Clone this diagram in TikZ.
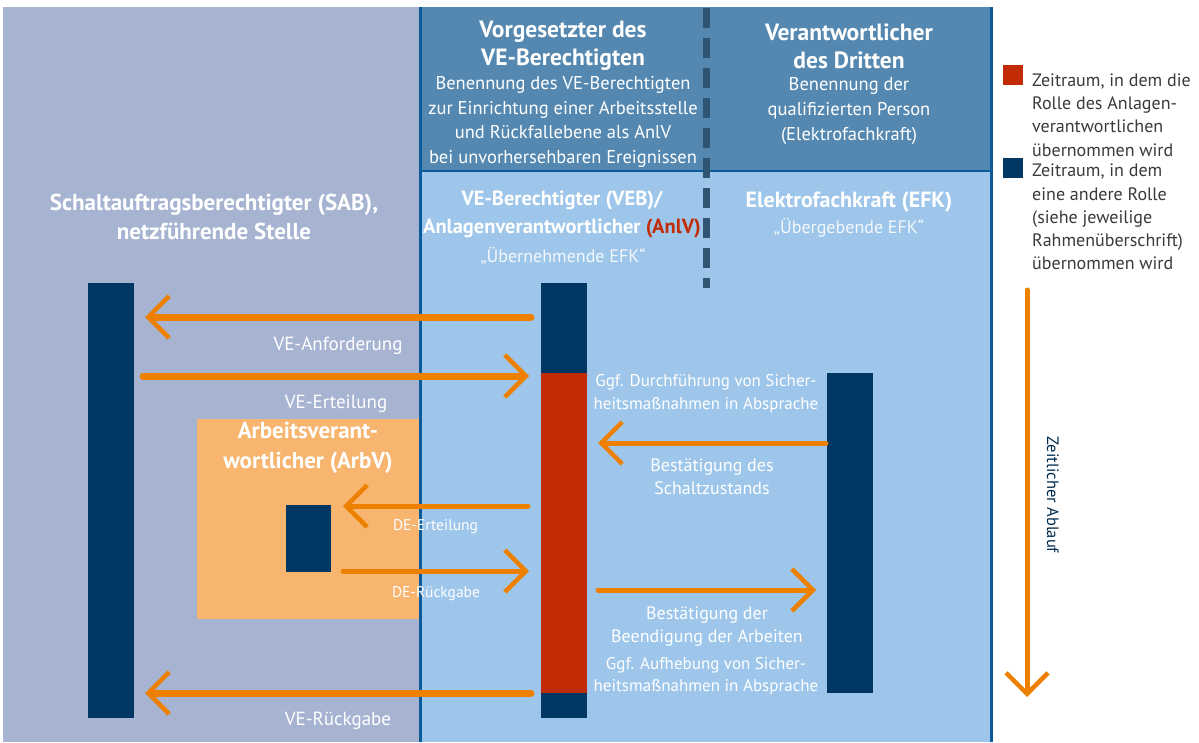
\documentclass[tikz,border=0pt]{standalone}
\usepackage{fontspec}
\setmainfont{PT Sans}
\usetikzlibrary{arrows.meta}
\usetikzlibrary{positioning}
\definecolor{sabbg}{HTML}{A6B4D2}
\definecolor{headbg}{HTML}{5588B0}
\definecolor{lowbg}{HTML}{9DC6EA}
\definecolor{rule}{HTML}{0B5B9B}
\definecolor{dashc}{HTML}{2F5572}
\definecolor{navy}{HTML}{003763}
\definecolor{anlvred}{HTML}{C12C07}
\definecolor{arrorange}{HTML}{EE8000}
\definecolor{boxorange}{HTML}{F7B570}
\definecolor{legtext}{HTML}{3A3A3A}
\tikzset{
    bar/.style={
        fill=navy,
        draw=none,
        inner sep=0pt},
    hdbold/.style={
        text=white,
        align=center,
        inner sep=0pt,
        font=\fontsize{23.5}{28}\selectfont\bfseries},
    hdtext/.style={
        text=white,
        align=center,
        inner sep=0pt,
        font=\fontsize{18.5}{24.7}\selectfont},
    quote/.style={
        text=white!88!lowbg,
        align=center,
        inner sep=0pt,
        font=\fontsize{18}{20}\selectfont},
    lbl/.style={
        text=white,
        align=center,
        inner sep=0pt,
        font=\fontsize{19}{23}\selectfont},
    midlbl/.style={
        text=white,
        align=center,
        inner sep=0pt,
        font=\fontsize{18}{23}\selectfont},
    delbl/.style={
        text=white,
        inner sep=0pt,
        font=\fontsize{15.5}{18}\selectfont},
    legtxt/.style={
        text=legtext,
        align=left,
        inner sep=0pt,
        font=\fontsize{18}{23.2}\selectfont},
    legbox/.style={
        minimum size=20pt,
        inner sep=0pt},
    every edge/.style={
        draw=arrorange,
        line width=7pt,
        line cap=round,
        -{Straight Barb[length=21pt,width=42pt,line width=4.5pt]}},
    thin/.style={
        line width=5pt}}

\begin{document}
\begin{tikzpicture}[x=1pt,y=-1pt]
        \useasboundingbox (0,0) rectangle (1199,742);
        \fill[white] (0,0) rectangle (1199,742);

        \fill[sabbg] (3,7) rectangle (420,742);
        \fill[headbg] (420,7) rectangle (991,171);
        \fill[lowbg] (420,171) rectangle (991,742);
        \fill[boxorange] (197,419) rectangle (421,619);
        \draw[rule, line width=3pt] (420,7) -- (420,742);
        \draw[rule, line width=2.5pt] (420,171) -- (991,171);
        \draw[rule, line width=3pt] (991,7) -- (991,742);
        \draw[dashc, line width=7pt, dash pattern=on 20pt off 10pt] (706,8) -- (706,288);

        \node[hdbold] (vorg) at (563,46) {Vorgesetzter des\\VE-Berechtigten};
        \node[hdtext] (vorgtxt) at (563,122) {Benennung des VE-Berechtigten\\zur Einrichtung einer Arbeitsstelle\\und Rückfallebene als AnlV\\bei unvorhersehbaren Ereignissen};
        \node[hdbold] (dritt) at (849,46) {Verantwortlicher\\des Dritten};
        \node[hdtext] (dritttxt) at (849,111) {Benennung der\\qualifizierten Person\\(Elektrofachkraft)};

        \node[hdbold, font=\fontsize{20.5}{28}\selectfont\bfseries] (vebhd) at (562,214) {VE-Berechtigter (VEB)/\\Anlagenverantwortlicher \textcolor{anlvred}{(AnlV)}};
        \node[quote] (vebq) at (563,256) {„Übernehmende EFK“};
        \node[hdbold, font=\fontsize{22}{28}\selectfont\bfseries] (efkhd) at (849,202) {Elektrofachkraft (EFK)};
        \node[quote] (efkq) at (849,228) {„Übergebende EFK“};
        \node[hdbold, font=\fontsize{23}{29}\selectfont\bfseries] (sabhd) at (214,217) {Schaltauftragsberechtigter (SAB),\\netzführende Stelle};
        \node[hdbold, font=\fontsize{23}{30}\selectfont\bfseries] (arbvhd) at (308,448) {Arbeitsverant-\\wortlicher (ArbV)};

        \node[bar, minimum width=46pt, minimum height=435pt] (sab) at (111,500.5) {};
        \node[bar, minimum width=46pt, minimum height=435pt] (veb) at (564,500.5) {};
        \node[bar, fill=anlvred, minimum width=46pt, minimum height=320pt] (anlv) at (564,533) {};
        \node[bar, minimum width=46pt, minimum height=320pt] (efk) at (850,533) {};
        \node[bar, minimum width=45pt, minimum height=67pt] (arbv) at (308.5,538.5) {};

        \coordinate (anf1) at (531,317);
        \coordinate (anf2) at (145,317);
        \coordinate (ert1) at (143,376);
        \coordinate (ert2) at (529,376);
        \coordinate (de1) at (528,506);
        \coordinate (de2) at (343,506);
        \coordinate (dr1) at (343,571);
        \coordinate (dr2) at (529,571);
        \coordinate (sz1) at (826,443);
        \coordinate (sz2) at (598,443);
        \coordinate (bd1) at (598,590);
        \coordinate (bd2) at (816,590);
        \coordinate (rg1) at (531,693);
        \coordinate (rg2) at (145,693);
        \coordinate (zt1) at (1027,290);
        \coordinate (zt2) at (1027,697);

        \draw (anf1) edge node[lbl, below=16pt] {VE-Anforderung} (anf2);
        \draw (ert1) edge node[lbl, below=16pt] {VE-Erteilung} (ert2);
        \draw (de1) edge[thin] node[delbl, below=11pt] {DE-Erteilung} (de2);
        \draw (dr1) edge[thin] node[delbl, below=13pt] {DE-Rückgabe} (dr2);
        \draw (sz1) edge[thin] node[midlbl, below=13pt] {Bestätigung des\\Schaltzustands} (sz2);
        \draw (bd1) edge[thin] node[midlbl, below=14pt] {Bestätigung der\\Beendigung der Arbeiten} (bd2);
        \draw (rg1) edge node[lbl, below=16pt] {VE-Rückgabe} (rg2);
        \draw (zt1) edge[thin] (zt2);

        \node[midlbl, font=\fontsize{17}{23}\selectfont] (sich1) at (706,394) {Ggf. Durchführung von Sicher-\\heitsmaßnahmen in Absprache};
        \node[midlbl, font=\fontsize{17}{22}\selectfont] (sich2) at (706,676) {Ggf. Aufhebung von Sicher-\\heitsmaßnahmen in Absprache};

        \node[legbox, fill=anlvred] (legred) at (1013,75) {};
        \node[legtxt, anchor=west] (legredtxt) at (1032,115) {Zeitraum, in dem die\\Rolle des Anlagen-\\verantwortlichen\\übernommen wird};
        \node[legbox, fill=navy] (legnavy) at (1013,168) {};
        \node[legtxt, anchor=west] (legnavytxt) at (1032,217) {Zeitraum, in dem\\eine andere Rolle\\(siehe jeweilige\\Rahmenüberschrift)\\übernommen wird};
        \node[rotate=-90, inner sep=0pt, text=navy!80!black, font=\fontsize{16.5}{18}\selectfont] (zeit) at (1053,495) {Zeitlicher Ablauf};
\end{tikzpicture}
\end{document}
